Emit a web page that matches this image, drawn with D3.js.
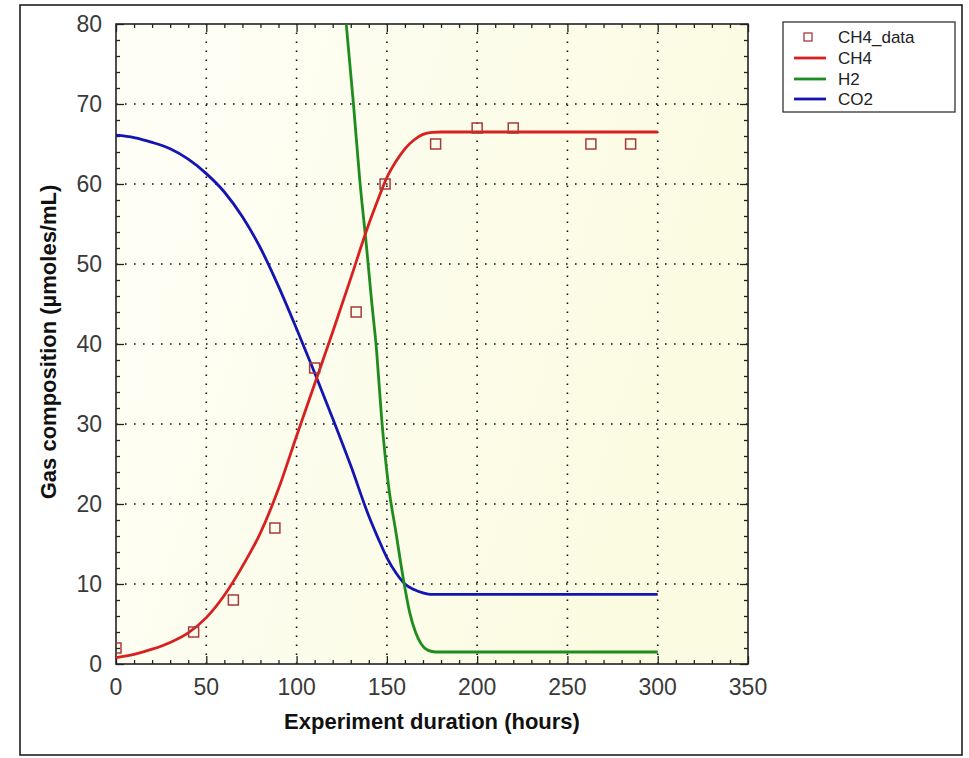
<!DOCTYPE html>
<html><head><meta charset="utf-8">
<script src="https://cdn.jsdelivr.net/npm/d3@7"></script>
<style>body{margin:0;background:#fff}svg{display:block}</style>
</head><body>
<script>
// ---- data ----
const ch4DataT = [0, 43, 65, 88, 110, 133, 149, 177, 200, 220, 263, 285];
const ch4DataV = [2, 4, 8, 17, 37, 44, 60, 65, 67, 67, 65, 65];

const ch4T = [0, 10, 20, 30, 40, 50, 60, 70, 80, 90, 100, 110, 120, 130, 140, 145, 150, 155, 160, 165, 170, 175, 180, 300];
const ch4V = [0.8, 1.2, 1.85, 2.7, 3.9, 5.8, 8.6, 12.2, 16.4, 21.9, 28.5, 35.0, 41.5, 48.2, 55.0, 58.0, 60.8, 62.8, 64.4, 65.5, 66.2, 66.45, 66.5, 66.5];

const h2T = [127.5, 131.5, 135, 138.8, 141.5, 144.3, 147, 150.8, 155, 159, 162.8, 166, 169, 172.9, 177, 300];
const h2V = [80, 70, 60.5, 52, 45.5, 39.2, 31, 22.5, 16.5, 10.8, 6.3, 3.9, 2.5, 1.7, 1.5, 1.5];

const co2T = [0, 10, 20, 30, 40, 50, 60, 70, 80, 90, 100, 110, 120, 130, 140, 145, 150, 155, 160, 165, 170, 175, 300];
const co2V = [66.1, 65.8, 65.2, 64.4, 63.1, 61.3, 59.0, 55.9, 52.0, 47.2, 41.9, 36.4, 30.7, 24.8, 18.5, 15.8, 13.3, 11.4, 10.0, 9.3, 8.9, 8.7, 8.7];

const xTicks = [0, 50, 100, 150, 200, 250, 300, 350];
const yTicks = [0, 10, 20, 30, 40, 50, 60, 70, 80];
const legendLabels = ["CH4_data", "CH4", "H2", "CO2"];

// ---- layout ----
const W = 969, H = 758;
const L = 116, R = 748, T = 24, B = 664;
const svg = d3.select("body").append("svg").attr("width", W).attr("height", H);

// outer frame
svg.append("rect").attr("x", 20).attr("y", 5).attr("width", 942).attr("height", 750)
  .attr("fill", "#fff").attr("stroke", "#111").attr("stroke-width", 1.5);

const defs = svg.append("defs");
const grad = defs.append("linearGradient").attr("id", "bg").attr("x1", "0").attr("y1", "0").attr("x2", "1").attr("y2", "0.3");
grad.append("stop").attr("offset", "0").attr("stop-color", "#fefef7");
grad.append("stop").attr("offset", "1").attr("stop-color", "#fbfbe1");
defs.append("clipPath").attr("id", "clip").append("rect").attr("x", L).attr("y", T).attr("width", R - L).attr("height", B - T);

const x = d3.scaleLinear().domain([0, 350]).range([L, R]);
const y = d3.scaleLinear().domain([0, 80]).range([B, T]);

svg.append("rect").attr("x", L).attr("y", T).attr("width", R - L).attr("height", B - T).attr("fill", "url(#bg)");

// grid
const grid = svg.append("g").attr("stroke", "#111").attr("stroke-width", 1.6).attr("stroke-dasharray", "1.6,7.4");
xTicks.filter(v => v > 0 && v < 350).forEach(v => {
  grid.append("line").attr("x1", x(v)).attr("x2", x(v)).attr("y1", B).attr("y2", T);
});
yTicks.filter(v => v > 0 && v < 80).forEach(v => {
  grid.append("line").attr("x1", L).attr("x2", R).attr("y1", y(v)).attr("y2", y(v));
});

// axes with inward ticks
const minorX = d3.range(0, 351, 10).filter(v => v % 50 !== 0);
const minorY = d3.range(0, 81, 2).filter(v => v % 10 !== 0);
function axisG(axisFn, scale, tx, ty, vals, size) {
  const g = svg.append("g").attr("transform", `translate(${tx},${ty})`)
    .call(axisFn(scale).tickValues(vals).tickSize(size).tickFormat(""));
  g.select(".domain").remove();
  g.selectAll("line").attr("stroke", "#222").attr("stroke-width", 1.3);
  return g;
}
axisG(d3.axisTop, x, 0, B, xTicks, 8);
axisG(d3.axisTop, x, 0, B, minorX, 4);
axisG(d3.axisBottom, x, 0, T, xTicks, 8);
axisG(d3.axisBottom, x, 0, T, minorX, 4);
axisG(d3.axisRight, y, L, 0, yTicks, 8);
axisG(d3.axisRight, y, L, 0, minorY, 4);
axisG(d3.axisLeft, y, R, 0, yTicks, 8);
axisG(d3.axisLeft, y, R, 0, minorY, 4);

svg.append("rect").attr("x", L).attr("y", T).attr("width", R - L).attr("height", B - T)
  .attr("fill", "none").attr("stroke", "#222").attr("stroke-width", 1.6);

// tick labels
const lblFont = "'Liberation Sans', Arial, sans-serif";
svg.append("g").selectAll("text").data(xTicks).join("text")
  .attr("x", d => x(d)).attr("y", 695).attr("text-anchor", "middle")
  .attr("font-family", lblFont).attr("font-size", 23).attr("fill", "#3a3a3a").text(d => d);
svg.append("g").selectAll("text").data(yTicks).join("text")
  .attr("x", 102).attr("y", d => y(d) + 8).attr("text-anchor", "end")
  .attr("font-family", lblFont).attr("font-size", 23).attr("fill", "#3a3a3a").text(d => d);

// axis titles
svg.append("text").attr("x", 432).attr("y", 729).attr("text-anchor", "middle")
  .attr("font-family", lblFont).attr("font-weight", "bold").attr("font-size", 22).attr("fill", "#111")
  .text("Experiment duration (hours)");
svg.append("text").attr("transform", "translate(56,342) rotate(-90)").attr("text-anchor", "middle")
  .attr("font-family", lblFont).attr("font-weight", "bold").attr("font-size", 22).attr("fill", "#111")
  .text("Gas composition (µmoles/mL)");

// curves
const line = d3.line().x(d => x(d[0])).y(d => y(d[1])).curve(d3.curveMonotoneX);
const plot = svg.append("g").attr("clip-path", "url(#clip)");
const series = [
  {t: co2T, v: co2V, c: "#1414b4"},
  {t: h2T, v: h2V, c: "#1e8c1e"},
  {t: ch4T, v: ch4V, c: "#d82020"}
];
series.forEach(s => {
  plot.append("path").datum(s.t.map((t, i) => [t, s.v[i]]))
    .attr("d", line).attr("fill", "none").attr("stroke", s.c).attr("stroke-width", 2.8);
});

// data squares
plot.selectAll("rect.pt").data(ch4DataT.map((t, i) => [t, ch4DataV[i]])).join("rect")
  .attr("class", "pt").attr("x", d => x(d[0]) - 5).attr("y", d => y(d[1]) - 5)
  .attr("width", 10).attr("height", 10).attr("fill", "none").attr("stroke", "#a83a3a").attr("stroke-width", 1.5);

// legend
const lg = svg.append("g");
lg.append("rect").attr("x", 783).attr("y", 22).attr("width", 172).attr("height", 90)
  .attr("fill", "#fff").attr("stroke", "#333").attr("stroke-width", 1.3);
const rowsY = [37, 58, 79, 99];
const legColors = [null, "#d82020", "#1e8c1e", "#1414b4"];
legendLabels.forEach((lab, i) => {
  if (i === 0) {
    lg.append("rect").attr("x", 804).attr("y", rowsY[i] - 4).attr("width", 8).attr("height", 8)
      .attr("fill", "none").attr("stroke", "#a83a3a").attr("stroke-width", 1.3);
  } else {
    lg.append("line").attr("x1", 794).attr("x2", 826).attr("y1", rowsY[i]).attr("y2", rowsY[i])
      .attr("stroke", legColors[i]).attr("stroke-width", 2.8);
  }
  lg.append("text").attr("x", 838).attr("y", rowsY[i] + 6).attr("font-family", lblFont)
    .attr("font-size", 17).attr("fill", "#222").text(lab);
});
</script>
</body></html>
